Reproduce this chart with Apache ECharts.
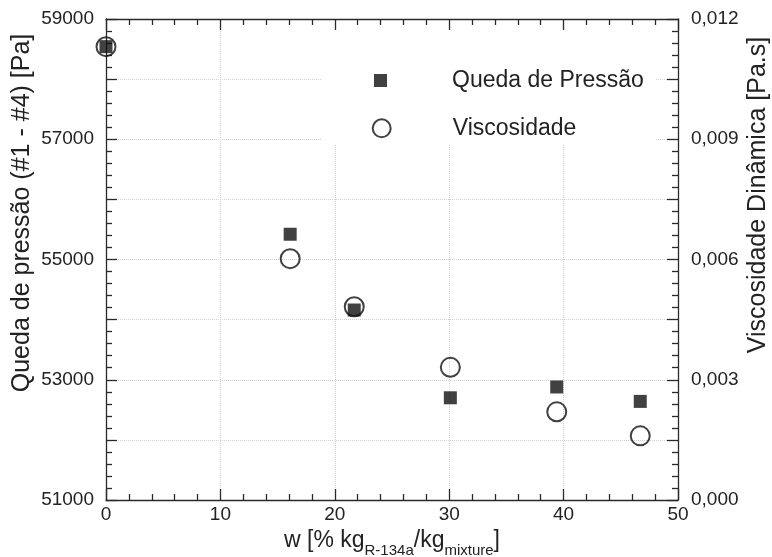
<!DOCTYPE html>
<html>
<head>
<meta charset="utf-8">
<script src="https://cdn.jsdelivr.net/npm/echarts@6/dist/echarts.min.js"></script>
<style>
  html, body { margin: 0; padding: 0; background: #fff; }
  #chart { width: 772px; height: 557px; }
</style>
</head>
<body>
<div id="chart"></div>
<script>
// fração mássica de R-134a [%]
var wValues = [0, 16.1, 21.7, 30.1, 39.4, 46.7]
// queda de pressão entre #1 e #4 [Pa]
var pressureDrop = [58540, 55420, 54160, 52700, 52880, 52640]
// viscosidade dinâmica [Pa.s]
var viscosity = [0.01131, 0.00602, 0.00482, 0.00331, 0.00220, 0.00160]

// rótulos dos eixos
var xTickLabels = [0, 10, 20, 30, 40, 50]
var pressureTickLabels = [51000, 53000, 55000, 57000, 59000]
var viscTickLabels = ['0,000', '0,003', '0,006', '0,009', '0,012']

var FONT = '"Liberation Sans", Arial, sans-serif'
var AXIS_COLOR = '#2a2a2a'

function pairs (xs, ys) {
  return xs.map(function (x, i) { return [x, ys[i]] })
}

var tickStyle = { color: AXIS_COLOR, width: 1.3 }
// onZero desligado, senão o eixo da direita vai parar em x = 0
var axisLine = { show: true, onZero: false, lineStyle: tickStyle }
var gridLine = { show: true, lineStyle: { color: '#d2d2d2', type: 'dotted', width: 1 } }

var chart = echarts.init(document.getElementById('chart'))

chart.setOption({
  animation: false,
  textStyle: { fontFamily: FONT },
  grid: { left: 106, right: 94, top: 19, bottom: 57, outerBoundsMode: 'none', containLabel: false },
  legend: [
    {
      // também serve de fundo branco que tapa a grade
      data: ['Queda de Pressão'],
      orient: 'vertical',
      left: 322,
      top: 31,
      padding: [38, 12, 53, 52],
      backgroundColor: '#fff',
      icon: 'rect',
      itemWidth: 13,
      itemHeight: 13,
      selectedMode: false,
      textStyle: { fontSize: 23, color: '#222', fontFamily: FONT, padding: [0, 0, 0, 60] }
    },
    {
      data: ['Viscosidade'],
      orient: 'vertical',
      left: 371.7,
      top: 116.8,
      padding: 0,
      icon: 'circle',
      itemWidth: 18,
      itemHeight: 18,
      selectedMode: false,
      textStyle: { fontSize: 23, color: '#222', fontFamily: FONT, padding: [0, 0, 0, 57] }
    }
  ],
  xAxis: [
    {
      type: 'value',
      min: 0,
      max: 50,
      interval: 10,
      name: '{n|w [% kg}{s|R-134a}{n|/kg}{s|mixture}{n|]}',
      nameLocation: 'middle',
      nameGap: 29,
      nameMoveOverlap: false,
      nameTextStyle: {
        color: '#222',
        rich: {
          n: { fontSize: 23, fontFamily: FONT, color: '#222', padding: [0, 0, 6, 0] },
          s: { fontSize: 15, fontFamily: FONT, color: '#222', padding: [14, 0, 0, 0] }
        }
      },
      axisLine: axisLine,
      axisTick: { show: true, inside: true, length: 11, lineStyle: tickStyle },
      minorTick: { show: true, splitNumber: 5, length: 6, lineStyle: tickStyle },
      axisLabel: {
        fontSize: 19,
        color: '#222',
        margin: 5,
        formatter: function (v) { return xTickLabels.indexOf(v) >= 0 ? String(v) : '' }
      },
      splitLine: gridLine
    },
    {
      type: 'value',
      position: 'top',
      min: 0,
      max: 50,
      interval: 10,
      axisLine: axisLine,
      axisTick: { show: true, inside: true, length: 11, lineStyle: tickStyle },
      minorTick: { show: true, splitNumber: 5, length: 6, lineStyle: tickStyle },
      axisLabel: { show: false },
      splitLine: { show: false }
    }
  ],
  yAxis: [
    {
      type: 'value',
      min: 51000,
      max: 59000,
      interval: 1000,
      name: 'Queda de pressão (#1 - #4) [Pa]',
      nameLocation: 'middle',
      nameRotate: 90,
      nameGap: 71,
      nameMoveOverlap: false,
      nameTextStyle: { fontSize: 25, color: '#222', padding: [0, 0, 0, 93] },
      axisLine: axisLine,
      axisTick: { show: true, inside: true, length: 11, lineStyle: tickStyle },
      minorTick: { show: true, splitNumber: 5, length: 6, lineStyle: tickStyle },
      axisLabel: {
        fontSize: 19,
        color: '#222',
        margin: 12,
        formatter: function (v) { return pressureTickLabels.indexOf(v) >= 0 ? String(v) : '' }
      },
      splitLine: gridLine
    },
    {
      type: 'value',
      position: 'right',
      min: 0,
      max: 0.012,
      interval: 0.0015,
      name: 'Viscosidade Dinâmica [Pa.s]',
      nameLocation: 'middle',
      nameRotate: 90,
      nameGap: 68,
      nameMoveOverlap: false,
      nameTextStyle: { fontSize: 25, color: '#222', padding: [0, 0, 0, 129] },
      axisLine: axisLine,
      axisTick: { show: true, inside: true, length: 11, lineStyle: tickStyle },
      minorTick: { show: true, splitNumber: 5, length: 6, lineStyle: tickStyle },
      axisLabel: {
        fontSize: 19,
        color: '#222',
        margin: 13,
        formatter: function (v) {
          var k = Math.round(v / 0.0015)
          return k % 2 === 0 ? (viscTickLabels[k / 2] || '') : ''
        }
      },
      splitLine: { show: false }
    }
  ],
  series: [
    {
      name: 'Queda de Pressão',
      type: 'scatter',
      xAxisIndex: 0,
      yAxisIndex: 0,
      clip: false,
      symbol: 'rect',
      symbolSize: 13,
      itemStyle: { color: '#111' },
      z: 3,
      data: pairs(wValues, pressureDrop)
    },
    {
      name: 'Viscosidade',
      type: 'scatter',
      xAxisIndex: 0,
      yAxisIndex: 1,
      clip: false,
      symbol: 'circle',
      symbolSize: 19,
      itemStyle: { color: 'rgba(255,255,255,0)', borderColor: '#111', borderWidth: 2 },
      z: 4,
      data: pairs(wValues, viscosity)
    }
  ]
})
</script>
</body>
</html>
